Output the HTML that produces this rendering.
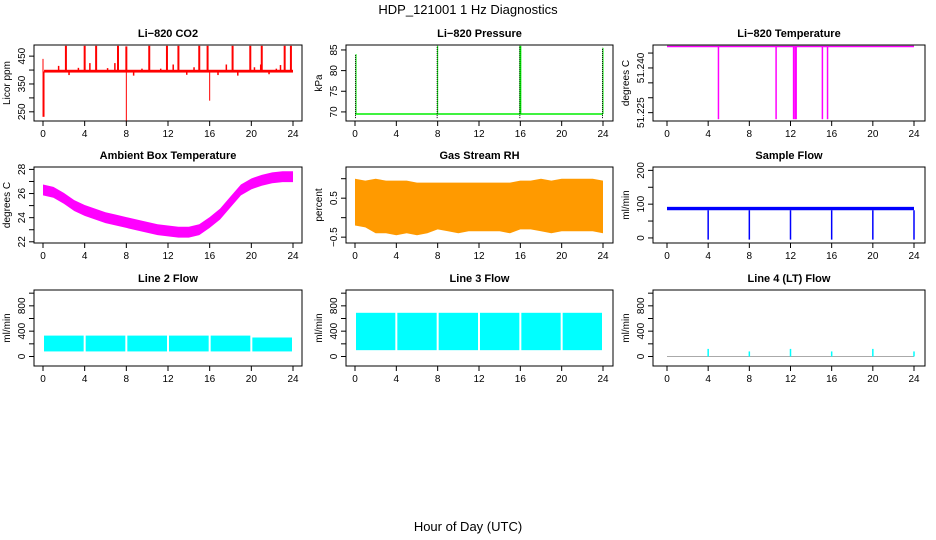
<!DOCTYPE html>
<html><head><meta charset="utf-8"><style>
body{margin:0;background:#fff;}
svg{display:block;font-family:"Liberation Sans",sans-serif;}
.t{font-size:11px;font-weight:bold;text-anchor:middle;}
.tk{font-size:10px;text-anchor:middle;}
</style></head><body>
<svg id="c" width="936" height="540" viewBox="0 0 936 540">
<text x="468" y="14" font-size="13" text-anchor="middle">HDP_121001  1 Hz Diagnostics</text>
<text x="468" y="531" font-size="13" text-anchor="middle">Hour of Day (UTC)</text>
</svg>
<script>
const hours=[0,4,8,12,16,20,24];
// CO2
const co2Spikes=[2.2,4,5.1,7.2,8,10.2,11.9,13,15,15.8,18.2,19.9,21,23.2,23.8];
const co2SpikeTop=[487,487,487,487,485,487,487,487,487,487,487,487,487,487,487];
const co2Small=[1.5,2.5,3.4,4.5,6.2,6.9,8.7,9.5,11.3,12.5,13.8,14.5,16.8,17.6,18.7,20.3,20.9,21.7,22.4,22.8];
const co2SmallVal=[415,382,408,425,407,425,380,405,405,420,383,410,382,420,380,410,420,385,405,418];
const co2Down=[0.05,8,16];
const co2DownVal=[232,215,290];
// Pressure
const presSpikes=[0.1,8,16,24];
const presSpikeTop=[84,86,86,85.5];
const presBase=69.5;
// Li temp
const ltBase=51.2472;
const ltDips=[5,10.6,12.3,12.45,12.55,15.1,15.6];
// Ambient
const ambMid=[26.3,26.1,25.6,25.0,24.6,24.3,24.0,23.8,23.6,23.4,23.2,23.0,22.9,22.8,22.8,23.0,23.6,24.3,25.3,26.3,26.8,27.1,27.3,27.4,27.4];
// RH
const rhTop=[1.0,0.95,1.0,0.95,0.95,0.95,0.9,0.9,0.9,0.9,0.9,0.9,0.9,0.9,0.9,0.9,0.95,0.95,1.0,0.95,1.0,1.0,1.0,1.0,0.95];
const rhBot=[-0.2,-0.25,-0.4,-0.4,-0.45,-0.4,-0.45,-0.4,-0.3,-0.35,-0.4,-0.35,-0.35,-0.35,-0.35,-0.4,-0.3,-0.3,-0.35,-0.4,-0.35,-0.35,-0.35,-0.35,-0.4];
// Sample flow
const sfTop=92, sfBot=82;
const sfDips=[4,8,12,16,20,24];
// Line flows
const l2Top=[330,330,330,330,330,300], l2Bot=80;
const l3Top=690, l3Bot=100;
const l4Spikes=[4,8,12,16,20,24];
const l4SpikeVal=[120,80,120,80,120,80];

const S=document.getElementById('c'),NS='http://www.w3.org/2000/svg';
function el(t,a,p){const e=document.createElementNS(NS,t);for(const k in a)e.setAttribute(k,a[k]);(p||S).appendChild(e);return e;}
const cols=[{l:34,r:302,x0:43,x1:293},{l:346,r:613,x0:355,x1:603},{l:653,r:925,x0:667,x1:914}];
const rows=[45,167,290];const H=76;
function panel(ci,ri,title,ylab,ymin,ymax,ticks,labels,name,showX){
  const c=cols[ci],top=rows[ri],bot=top+H;
  const g=el('g',{});
  
  
  const X=h=>c.x0+(c.x1-c.x0)*h/24;
  const Y=v=>bot-(v-ymin)/(ymax-ymin)*H;
  const t=el('text',{x:(c.l+c.r)/2,y:top-8,class:'t'},g);t.textContent=title;
  
  const yl=el('text',{transform:`translate(${c.l-24},${(top+bot)/2}) rotate(-90)`,'font-size':10,'text-anchor':'middle'},g);yl.textContent=ylab;
  
  ticks.forEach((v,i)=>{const y=Y(v);el('line',{x1:c.l-5,x2:c.l,y1:y,y2:y,stroke:'#000'},g);
    if(labels[i]){const tt=el('text',{transform:`translate(${c.l-9},${y}) rotate(-90)`,class:'tk'},g);tt.textContent=labels[i];}});
  hours.forEach(h=>{const x=X(h);el('line',{x1:x,x2:x,y1:bot,y2:bot+5,stroke:'#000'},g);
    if(showX){const tt=el('text',{x:x,y:bot+16,class:'tk'},g);tt.textContent=h;}});
  const d=el('g',{},g);
  
  el('rect',{x:c.l,y:top,width:c.r-c.l,height:H,fill:'none',stroke:'#000'},g);
  return {X,Y,d};
}
function vline(p,x,y1,y2,col,w){el('line',{x1:x,x2:x,y1:y1,y2:y2,stroke:col,'stroke-width':w||1},p.d);}
// CO2
let p=panel(0,0,'Li−820 CO2','Licor ppm',217,490,[250,300,350,400,450],['250','','350','','450'],'co2',true);
el('rect',{x:p.X(0.1),y:p.Y(401),width:p.X(24)-p.X(0.1),height:p.Y(391)-p.Y(401),fill:'#ff0000'},p.d);
co2Spikes.forEach((h,i)=>vline(p,p.X(h),p.Y(395),p.Y(co2SpikeTop[i]),'#ff0000',2));
co2Small.forEach((h,i)=>vline(p,p.X(h),p.Y(395),p.Y(co2SmallVal[i]),'#ff0000',1.5));
co2Down.forEach((h,i)=>vline(p,p.X(h),p.Y(395),p.Y(co2DownVal[i]),'#ff0000',i==0?2:1));
vline(p,p.X(0),p.Y(395),p.Y(440),'#ff0000',1);
// Pressure
p=panel(1,0,'Li−820 Pressure','kPa',67.8,86.2,[70,75,80,85],['70','75','80','85'],'pressure',true);
el('line',{x1:p.X(0),x2:p.X(24),y1:p.Y(presBase),y2:p.Y(presBase),stroke:'#00ee00','stroke-width':1.5},p.d);
presSpikes.forEach((h,i)=>{vline(p,p.X(h),p.Y(presBase),p.Y(presSpikeTop[i]),'#00ee00',i==2?2:1);
  el('line',{x1:p.X(h)-0.5,x2:p.X(h)-0.5,y1:p.Y(68.5),y2:p.Y(presSpikeTop[i]),stroke:'#000','stroke-dasharray':'1 1'},p.d);});
// Li temp
p=panel(2,0,'Li−820 Temperature','degrees C',51.2222,51.2477,[51.225,51.23,51.235,51.24,51.245],['51.225','','','51.240',''],'li-temp',true);
el('line',{x1:p.X(0),x2:p.X(24),y1:p.Y(ltBase),y2:p.Y(ltBase),stroke:'#ff00ff','stroke-width':1.5},p.d);
el('line',{x1:p.X(0),x2:p.X(24),y1:p.Y(ltBase)-1,y2:p.Y(ltBase)-1,stroke:'#888','stroke-width':0.6},p.d);
ltDips.forEach(h=>vline(p,p.X(h),p.Y(ltBase),p.Y(51.2228),'#ff00ff',1.5));
// Ambient
p=panel(0,1,'Ambient Box Temperature','degrees C',21.9,28.2,[22,23,24,25,26,27,28],['22','','24','','26','','28'],'ambient',true);
{let up=ambMid.map((v,i)=>`${p.X(i)},${p.Y(v+0.45)}`),dn=ambMid.map((v,i)=>`${p.X(i)},${p.Y(v-0.45)}`).reverse();
el('polygon',{points:up.concat(dn).join(' '),fill:'#ff00ff'},p.d);}
// RH
p=panel(1,1,'Gas Stream RH','percent',-0.65,1.3,[-0.5,0,0.5,1.0],['−0.5','','0.5',''],'gas-rh',true);
{let up=rhTop.map((v,i)=>`${p.X(i)},${p.Y(v)}`),dn=rhBot.map((v,i)=>`${p.X(i)},${p.Y(v)}`).reverse();
el('polygon',{points:up.concat(dn).join(' '),fill:'#ff9a00'},p.d);}
// Sample flow
p=panel(2,1,'Sample Flow','ml/min',-15,210,[0,50,100,150,200],['0','','100','','200'],'sample-flow',true);
el('rect',{x:p.X(0),y:p.Y(sfTop),width:p.X(24)-p.X(0),height:p.Y(sfBot)-p.Y(sfTop),fill:'#0000ff'},p.d);
sfDips.forEach(h=>vline(p,p.X(h),p.Y(sfBot),p.Y(-5),'#0000ff',1.5));
// Line 2
p=panel(0,2,'Line 2 Flow','ml/min',-150,1050,[0,200,400,600,800,1000],['0','','400','','800',''],'line2-flow',true);
l2Top.forEach((v,i)=>{const a=p.X(i*4)+1,b=p.X(i*4+4)-1;el('rect',{x:a,y:p.Y(v),width:b-a,height:p.Y(l2Bot)-p.Y(v),fill:'#00ffff'},p.d);});
// Line 3
p=panel(1,2,'Line 3 Flow','ml/min',-150,1050,[0,200,400,600,800,1000],['0','','400','','800',''],'line3-flow',true);
hours.slice(0,6).forEach(h=>{const a=p.X(h)+1,b=p.X(h+4)-1;el('rect',{x:a,y:p.Y(l3Top),width:b-a,height:p.Y(l3Bot)-p.Y(l3Top),fill:'#00ffff'},p.d);});
// Line 4
p=panel(2,2,'Line 4 (LT) Flow','ml/min',-150,1050,[0,200,400,600,800,1000],['0','','400','','800',''],'line4-flow',true);
el('line',{x1:p.X(0),x2:p.X(24),y1:p.Y(0),y2:p.Y(0),stroke:'#aaaaaa'},p.d);
l4Spikes.forEach((h,i)=>vline(p,p.X(h),p.Y(0),p.Y(l4SpikeVal[i]),'#00ffff',1.5));
</script>
</body></html>
